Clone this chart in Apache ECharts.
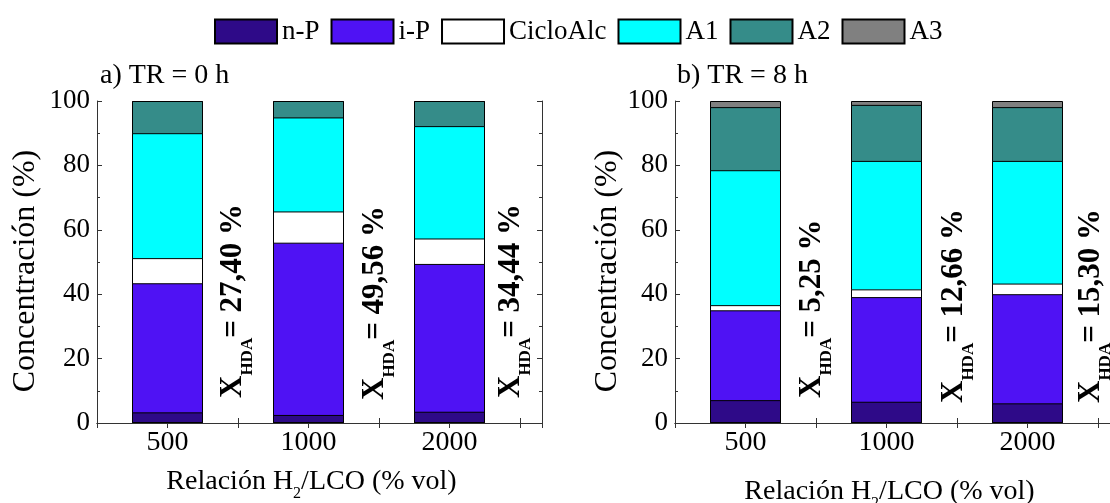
<!DOCTYPE html>
<html>
<head>
<meta charset="utf-8">
<script src="https://cdn.jsdelivr.net/npm/echarts@6/dist/echarts.min.js"></script>
<style>
  html, body { margin: 0; background: #fff; }
  #chart { width: 1110px; height: 503px; }
</style>
</head>
<body>
<div id="chart"></div>
<script>
// H2/LCO ratio (% vol)
const ratios = ['500', '1000', '2000'];
const components = ['n-P', 'i-P', 'CicloAlc', 'A1', 'A2', 'A3'];

// a) TR = 0 h, concentration (%)
const nP_0 = [3.3, 2.5, 3.5];
const iP_0 = [40.1, 53.5, 45.9];
const ciclo_0 = [7.8, 9.7, 7.9];
const a1_0 = [38.8, 29.2, 34.9];
const a2_0 = [10.0, 5.1, 7.8];
const a3_0 = [0, 0, 0];

// b) TR = 8 h, concentration (%)
const nP_8 = [7.1, 6.6, 6.1];
const iP_8 = [27.9, 32.5, 33.9];
const ciclo_8 = [1.6, 2.4, 3.3];
const a1_8 = [41.9, 39.9, 38.1];
const a2_8 = [19.6, 17.4, 16.7];
const a3_8 = [1.9, 1.2, 1.9];

// HDA conversion labels
const xhda_0 = ['27,40', '49,56', '34,44'];
const xhda_8 = ['5,25', '12,66', '15,30'];

// label placement (px right of bar centre, px above the x axis)
const noteShift_0 = [[47, 25], [48, 23], [43, 25]];
const noteShift_8 = [[48, 25], [49, 20], [45, 20]];

const colors = ['#2e0a88', '#4f12f4', '#ffffff', '#00ffff', '#358c89', '#808080'];
const FONT = '"Liberation Serif", "Times New Roman", serif';

const chart = echarts.init(document.getElementById('chart'));

// running totals so each segment sits on the previous one
function cumulative(parts) {
  let run = ratios.map(() => 0);
  return parts.map(p => {
    run = run.map((v, i) => v + p[i]);
    return run.slice();
  });
}

function barSeries(parts, axisIdx) {
  const cum = cumulative(parts);
  const out = [];
  for (let k = components.length - 1; k >= 0; k--) {
    out.push({
      type: 'bar',
      name: components[k],
      xAxisIndex: axisIdx,
      yAxisIndex: axisIdx,
      barWidth: 71,
      barGap: '-100%',
      data: cum[k].map((v, i) => [i + 1, v]),
      itemStyle: { color: colors[k], borderColor: '#000', borderWidth: 1 },
      emphasis: { disabled: true }
    });
  }
  return out;
}

function xAxes(grid) {
  const common = {
    type: 'value', gridIndex: grid, min: 0.5, max: 3.656, interval: 0.5,
    splitLine: { show: false },
    axisLine: { lineStyle: { color: '#333', width: 1 } },
    axisTick: { inside: true, length: 5, lineStyle: { color: '#333' } }
  };
  return [
    Object.assign({}, common, {
      position: 'bottom',
      axisLabel: {
        margin: 6, fontFamily: FONT, fontSize: 28, color: '#000',
        formatter: v => Number.isInteger(v) ? ratios[v - 1] : ''
      },
      name: '{t|Relación H}{s|2}{t|/LCO (% vol)}',
      nameLocation: 'middle',
      nameGap: grid === 0 ? 45 : 55,
      nameTextStyle: {
        padding: [0, 16, 0, 0],
        rich: {
          t: { fontFamily: FONT, fontSize: 28, color: '#000', lineHeight: 28, verticalAlign: 'top' },
          s: { fontFamily: FONT, fontSize: 16, color: '#000', lineHeight: 16, padding: [18, 0, 0, 0], verticalAlign: 'top' }
        }
      }
    }),
    Object.assign({}, common, { position: 'top', axisLabel: { show: false } })
  ];
}

function yAxes(grid) {
  const common = {
    type: 'value', gridIndex: grid, min: 0, max: 100, interval: 20,
    splitLine: { show: false },
    axisLine: { show: true, lineStyle: { color: '#333', width: 1 } },
    axisTick: { show: true, inside: true, length: 5, lineStyle: { color: '#333' } },
    minorTick: { show: true, splitNumber: 2, length: 3, lineStyle: { color: '#333' } }
  };
  return [
    Object.assign({}, common, {
      position: 'left',
      axisLabel: { margin: 7, fontFamily: FONT, fontSize: 27, color: '#000' },
      name: 'Concentración (%)',
      nameLocation: 'middle',
      nameGap: grid === 0 ? 55 : 51,
      nameTextStyle: { fontFamily: FONT, fontSize: 32, color: '#000', padding: [0, 18, 0, 0] }
    }),
    Object.assign({}, common, { position: 'right', axisLabel: { show: false } })
  ];
}

const titleStyle = { fontFamily: FONT, fontSize: 28, fontWeight: 'normal', color: '#000' };

chart.setOption({
  animation: false,
  title: [
    { text: 'a) TR = 0 h', left: 95, top: 57, textStyle: titleStyle },
    { text: 'b) TR = 8 h', left: 672, top: 57, textStyle: titleStyle }
  ],
  legend: {
    data: components,
    left: 209, top: 13,
    itemWidth: 62, itemHeight: 24, itemGap: 11,
    icon: 'rect',
    selectedMode: false,
    textStyle: { fontFamily: FONT, fontSize: 27, color: '#000' }
  },
  grid: [
    { left: 97, top: 101, width: 445, height: 322, outerBoundsMode: 'none' },
    { left: 675, top: 101, width: 445, height: 322, outerBoundsMode: 'none' }
  ],
  xAxis: xAxes(0).concat(xAxes(1)),
  yAxis: yAxes(0).concat(yAxes(1)),
  series: barSeries([nP_0, iP_0, ciclo_0, a1_0, a2_0, a3_0], 0)
    .concat(barSeries([nP_8, iP_8, ciclo_8, a1_8, a2_8, a3_8], 2))
});

// rotated X_HDA notes next to every bar
function notes(grid, values, shifts) {
  return values.map((val, i) => {
    const p = chart.convertToPixel({ gridIndex: grid }, [i + 1, 0]);
    return {
      type: 'text',
      x: p[0] + shifts[i][0] + 3,
      y: p[1] - shifts[i][1],
      rotation: Math.PI / 2,
      z: 100,
      style: {
        text: '{x|X}{s|HDA}{x|= ' + val + ' %}',
        align: 'left',
        verticalAlign: 'top',
        fill: '#000',
        rich: {
          x: { fontFamily: FONT, fontSize: 31, fontWeight: 'bold', lineHeight: 30, verticalAlign: 'top', fill: '#000' },
          s: { fontFamily: FONT, fontSize: 17, fontWeight: 'bold', lineHeight: 17, padding: [22, 0, 0, 0], verticalAlign: 'top', fill: '#000' }
        }
      }
    };
  });
}

chart.setOption({
  graphic: notes(0, xhda_0, noteShift_0).concat(notes(1, xhda_8, noteShift_8))
});
</script>
</body>
</html>
